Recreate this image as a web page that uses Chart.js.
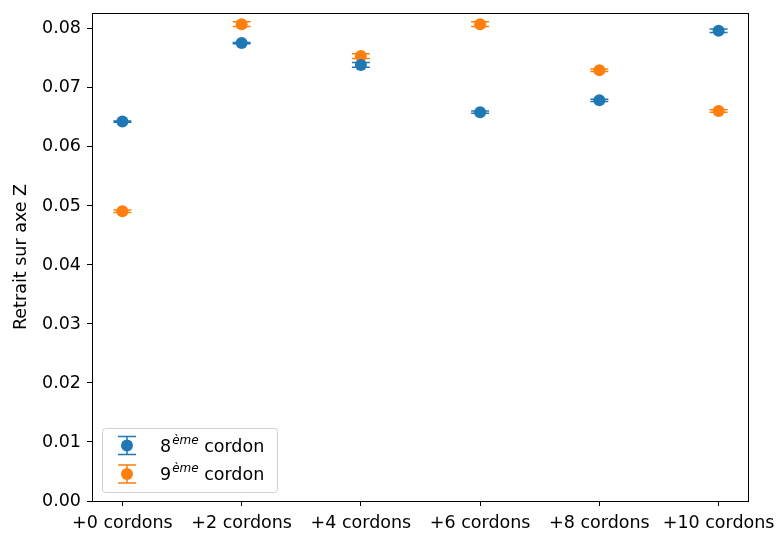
<!DOCTYPE html>
<html>
<head>
<meta charset="utf-8">
<script src="https://cdn.jsdelivr.net/npm/chart.js@4/dist/chart.umd.min.js"></script>
<style>
  html, body { margin: 0; padding: 0; background: #fff; }
  #wrap { width: 779px; height: 533px; }
</style>
</head>
<body>
<div id="wrap"><canvas id="chart"></canvas></div>
<script>
// categories and values
const categories = ['+0 cordons', '+2 cordons', '+4 cordons', '+6 cordons', '+8 cordons', '+10 cordons'];
const cordon8 = [0.0643, 0.0776, 0.0739, 0.0659, 0.0679, 0.0797];
const cordon8Err = [0.0001, 0.0001, 0.0004, 0.0002, 0.0002, 0.0003];
const cordon9 = [0.0491, 0.0808, 0.0754, 0.0808, 0.0730, 0.0661];
const cordon9Err = [0.0002, 0.0004, 0.0004, 0.0004, 0.0002, 0.0002];
const yTicks = [0, 0.01, 0.02, 0.03, 0.04, 0.05, 0.06, 0.07, 0.08];

const BLUE = '#1f77b4';
const ORANGE = '#ff7f0e';
const FONT = 'DejaVu Sans';
const FS = 17.5;

const toPoints = vals => vals.map((v, i) => ({ x: i, y: v }));

// no automatic label overflow padding, plot area is set by layout padding
const noOverflow = axis => {
  axis.paddingLeft = 0; axis.paddingRight = 0;
  axis.paddingTop = 0; axis.paddingBottom = 0;
};

// error bars drawn under the markers
const errorBars = {
  id: 'errorBars',
  beforeDatasetsDraw(chart) {
    const { ctx, scales: { x, y } } = chart;
    chart.data.datasets.forEach(ds => {
      ctx.save();
      ctx.strokeStyle = ds.backgroundColor;
      ctx.lineWidth = 1.5;
      ds.data.forEach((p, i) => {
        const e = ds.errors[i];
        const px = x.getPixelForValue(p.x);
        const top = y.getPixelForValue(p.y + e);
        const bot = y.getPixelForValue(p.y - e);
        ctx.beginPath();
        ctx.moveTo(px, top); ctx.lineTo(px, bot);
        ctx.moveTo(px - 9, top); ctx.lineTo(px + 9, top);
        ctx.moveTo(px - 9, bot); ctx.lineTo(px + 9, bot);
        ctx.stroke();
      });
      ctx.restore();
    });
  }
};

// frame + legend with superscripts
const frameAndLegend = {
  id: 'frameAndLegend',
  afterDraw(chart) {
    const { ctx, chartArea: a } = chart;
    ctx.save();
    ctx.strokeStyle = '#000';
    ctx.lineWidth = 1;
    ctx.strokeRect(a.left + 0.5, a.top + 0.5, a.right - a.left - 1, a.bottom - a.top);

    // legend box
    const bx = 102, by = 428, bw = 175, bh = 64;
    ctx.fillStyle = 'rgba(255,255,255,0.8)';
    ctx.strokeStyle = '#d0d0d0';
    ctx.beginPath();
    ctx.roundRect(bx + 0.5, by + 0.5, bw, bh, 3);
    ctx.fill();
    ctx.stroke();

    const rows = [
      { color: BLUE, num: '8', cy: 445.5 },
      { color: ORANGE, num: '9', cy: 474 }
    ];
    rows.forEach(r => {
      const cx = 127;
      ctx.strokeStyle = r.color;
      ctx.fillStyle = r.color;
      ctx.lineWidth = 1.5;
      ctx.beginPath();
      ctx.moveTo(cx, r.cy - 9); ctx.lineTo(cx, r.cy + 9);
      ctx.moveTo(cx - 9, r.cy - 9); ctx.lineTo(cx + 9, r.cy - 9);
      ctx.moveTo(cx - 9, r.cy + 9); ctx.lineTo(cx + 9, r.cy + 9);
      ctx.stroke();
      ctx.beginPath();
      ctx.arc(cx, r.cy, 6, 0, Math.PI * 2);
      ctx.fill();

      ctx.fillStyle = '#000';
      ctx.textBaseline = 'alphabetic';
      let tx = 160;
      const base = r.cy + 6;
      ctx.font = `${FS}px "${FONT}"`;
      ctx.fillText(r.num, tx, base);
      tx += ctx.measureText(r.num).width + 1;
      ctx.font = `italic 12px "${FONT}"`;
      ctx.fillText('ème', tx, base - 8);
      tx += ctx.measureText('ème').width;
      ctx.font = `${FS}px "${FONT}"`;
      ctx.fillText(' cordon', tx, base);
    });
    ctx.restore();
  }
};

new Chart(document.getElementById('chart'), {
  type: 'scatter',
  data: {
    datasets: [
      {
        label: '8ème cordon',
        data: toPoints(cordon8),
        errors: cordon8Err,
        backgroundColor: BLUE,
        borderColor: BLUE,
        pointRadius: 6,
        pointHoverRadius: 6,
        borderWidth: 0
      },
      {
        label: '9ème cordon',
        data: toPoints(cordon9),
        errors: cordon9Err,
        backgroundColor: ORANGE,
        borderColor: ORANGE,
        pointRadius: 6,
        pointHoverRadius: 6,
        borderWidth: 0
      }
    ]
  },
  options: {
    responsive: true,
    maintainAspectRatio: false,
    animation: false,
    layout: { padding: { top: 13, right: 30, left: 0, bottom: 0 } },
    plugins: {
      legend: { display: false },
      tooltip: { enabled: false }
    },
    scales: {
      x: {
        type: 'linear',
        min: -0.255,
        max: 5.255,
        afterBuildTicks: axis => { axis.ticks = categories.map((c, i) => ({ value: i })); },
        afterFit: axis => { axis.height = 32; noOverflow(axis); },
        ticks: {
          autoSkip: false,
          maxRotation: 0,
          color: '#000',
          padding: 7,
          font: { family: FONT, size: FS },
          callback: v => categories[v]
        },
        grid: { drawOnChartArea: false, drawTicks: true, tickLength: 5, color: '#000' },
        border: { display: false }
      },
      y: {
        min: 0,
        max: 0.0827,
        afterBuildTicks: axis => { axis.ticks = yTicks.map(v => ({ value: v })); },
        afterFit: axis => { axis.width = 92; noOverflow(axis); },
        title: {
          display: true,
          text: 'Retrait sur axe Z',
          color: '#000',
          font: { family: FONT, size: FS },
          padding: { top: 11, bottom: 0 }
        },
        ticks: {
          color: '#000',
          padding: 6,
          font: { family: FONT, size: FS },
          callback: v => v.toFixed(2)
        },
        grid: { drawOnChartArea: false, drawTicks: true, tickLength: 5, color: '#000' },
        border: { display: false }
      }
    }
  },
  plugins: [errorBars, frameAndLegend]
});
</script>
</body>
</html>
